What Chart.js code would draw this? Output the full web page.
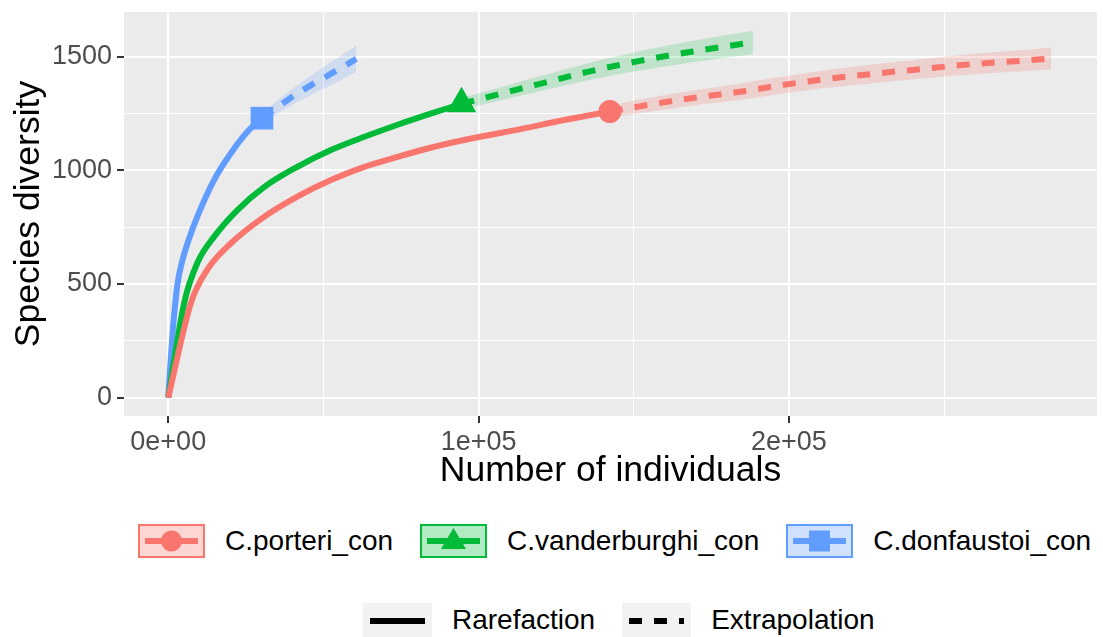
<!DOCTYPE html>
<html>
<head>
<meta charset="utf-8">
<script src="https://cdn.jsdelivr.net/npm/chart.js@4.4.1/dist/chart.umd.min.js"></script>
<style>
  body { margin: 0; background: #fff; font-family: "Liberation Sans", Arial, sans-serif; }
  #wrap { position: relative; width: 1103px; height: 637px; overflow: hidden; }
  #plot { position: absolute; left: 0; top: 0; }
  .legrow { position: absolute; display: flex; align-items: center; height: 34px; font-size: 28px; color: #000; white-space: nowrap; }
  .legrow svg { display: block; margin-right: 20px; flex: none; }
  .legrow span { margin-right: 27px; }
</style>
</head>
<body>
<div id="wrap">
  <canvas id="plot" width="1103" height="500"></canvas>
  <div class="legrow" id="legSpecies" style="left:138px; top:524px;"></div>
  <div class="legrow" id="legType" style="left:363px; top:603px;"></div>
</div>
<script>
// assemblages
const species = ["C.porteri_con", "C.vanderburghi_con", "C.donfaustoi_con"];

// C.porteri_con
const porteriRareX = [0, 7400, 12600, 20300, 31000, 41600, 52600, 63200, 73900, 84800, 96100, 114200, 128000, 142300];
const porteriRareY = [0, 420, 563, 680, 796, 884, 958, 1015, 1059, 1100, 1135, 1183, 1222, 1258];
const porteriExtX = [142300, 151900, 169000, 185200, 193900, 210000, 227100, 243200, 259400, 276800, 284500];
const porteriExtY = [1258, 1281, 1318, 1347, 1366, 1398, 1424, 1446, 1467, 1483, 1492];
const porteriExtLo = [1233, 1251, 1285, 1311, 1329, 1359, 1383, 1403, 1422, 1436, 1444];
const porteriExtHi = [1283, 1311, 1351, 1383, 1403, 1437, 1465, 1489, 1512, 1530, 1540];

// C.vanderburghi_con
const vanderRareX = [0, 5200, 9400, 14800, 22300, 31000, 41600, 52600, 63200, 73900, 84800, 94500];
const vanderRareY = [0, 420, 593, 708, 825, 927, 1015, 1090, 1147, 1200, 1250, 1292];
const vanderExtX = [94500, 103500, 119700, 135800, 151900, 169000, 185200, 188400];
const vanderExtY = [1292, 1324, 1380, 1435, 1481, 1522, 1556, 1562];
const vanderExtLo = [1267, 1296, 1347, 1397, 1439, 1475, 1505, 1510];
const vanderExtHi = [1317, 1352, 1413, 1473, 1523, 1569, 1607, 1614];

// C.donfaustoi_con
const donfRareX = [0, 1500, 3000, 4500, 6500, 9400, 14800, 20300, 25500, 30200];
const donfRareY = [0, 300, 500, 600, 690, 797, 958, 1077, 1169, 1229];
const donfExtX = [30200, 38000, 45500, 52900, 60600];
const donfExtY = [1229, 1305, 1370, 1428, 1490];
const donfExtLo = [1207, 1273, 1328, 1377, 1432];
const donfExtHi = [1251, 1337, 1412, 1479, 1548];

// observed samples (reference points)
const obsX = [142300, 94500, 30200];
const obsY = [1258, 1292, 1229];

// axes
const xMajorTicks = [0, 100000, 200000];
const xTickLabels = ["0e+00", "1e+05", "2e+05"];
const xMinorTicks = [50000, 150000, 250000];
const yMajorTicks = [0, 500, 1000, 1500];
const yMinorTicks = [250, 750, 1250];

const COLORS = ["#F8766D", "#00BA38", "#619CFF"];
const BANDS = ["rgba(248,118,109,0.22)", "rgba(0,186,56,0.18)", "rgba(97,156,255,0.2)"];
const KEY_FILLS = ["rgba(248,118,109,0.3)", "rgba(0,186,56,0.3)", "rgba(97,156,255,0.3)"];
const SHAPES = ["circle", "triangle", "rect"];
const SHAPE_R = [11.5, 17, 16];
const DASH = [13, 12];

function pts(xs, ys) {
  return xs.map((x, i) => ({ x: x, y: ys[i] }));
}

const series = [
  { rx: porteriRareX, ry: porteriRareY, ex: porteriExtX, ey: porteriExtY, lo: porteriExtLo, hi: porteriExtHi },
  { rx: vanderRareX, ry: vanderRareY, ex: vanderExtX, ey: vanderExtY, lo: vanderExtLo, hi: vanderExtHi },
  { rx: donfRareX, ry: donfRareY, ex: donfExtX, ey: donfExtY, lo: donfExtLo, hi: donfExtHi }
];

const smooth = { cubicInterpolationMode: "monotone", borderJoinStyle: "round" };
const datasets = [];
series.forEach((s, i) => {
  // confidence band: upper filled down to the lower one right after it
  datasets.push({ ...smooth, data: pts(s.ex, s.hi), borderWidth: 0, pointRadius: 0, fill: "+1", backgroundColor: BANDS[i], order: 3 });
  datasets.push({ ...smooth, data: pts(s.ex, s.lo), borderWidth: 0, pointRadius: 0, fill: false, order: 3 });
});
series.forEach((s, i) => {
  datasets.push({ ...smooth, data: pts(s.rx, s.ry), borderColor: COLORS[i], borderWidth: 6, pointRadius: 0, fill: false, order: 2 });
  datasets.push({ ...smooth, data: pts(s.ex, s.ey), borderColor: COLORS[i], borderWidth: 6, borderDash: DASH, pointRadius: 0, fill: false, order: 2 });
});
species.forEach((name, i) => {
  datasets.push({
    data: [{ x: obsX[i], y: obsY[i] }], showLine: false,
    pointStyle: SHAPES[i], pointRadius: SHAPE_R[i], pointBackgroundColor: COLORS[i], pointBorderWidth: 0, order: 1
  });
});

const panelBg = {
  id: "panelBg",
  beforeDraw(chart) {
    const { ctx, chartArea: a } = chart;
    ctx.save();
    ctx.fillStyle = "#EBEBEB";
    ctx.fillRect(a.left, a.top, a.right - a.left, a.bottom - a.top);
    ctx.restore();
  }
};

const tickFont = { family: "'Liberation Sans', Arial, sans-serif", size: 27 };
const titleFont = { family: "'Liberation Sans', Arial, sans-serif", size: 35.5 };

function gridFor(majors) {
  const isMajor = c => c.tick && majors.includes(c.tick.value);
  return {
    color: "#FFFFFF",
    lineWidth: c => isMajor(c) ? 2 : 1,
    tickColor: c => isMajor(c) ? "#333333" : "rgba(0,0,0,0)",
    tickWidth: 2,
    tickLength: 7
  };
}

new Chart(document.getElementById("plot"), {
  type: "line",
  data: { datasets: datasets },
  options: {
    responsive: false,
    animation: false,
    layout: { autoPadding: false, padding: { left: 0, right: 6, top: 12, bottom: 0 } },
    plugins: { legend: { display: false }, tooltip: { enabled: false } },
    scales: {
      x: {
        type: "linear", min: -14250, max: 299250,
        afterBuildTicks: sc => { sc.ticks = xMajorTicks.concat(xMinorTicks).sort((a, b) => a - b).map(v => ({ value: v })); },
        afterFit: sc => { sc.height = 84; sc.paddingLeft = 0; sc.paddingRight = 0; },
        ticks: {
          autoSkip: false, maxRotation: 0, padding: 3, color: "#4D4D4D", font: tickFont,
          callback: v => { const k = xMajorTicks.indexOf(v); return k >= 0 ? xTickLabels[k] : ""; }
        },
        grid: gridFor(xMajorTicks),
        border: { display: false },
        title: { display: true, text: "Number of individuals", color: "#000", font: titleFont, padding: { top: 0, bottom: 7 } }
      },
      y: {
        type: "linear", min: -81, max: 1696,
        afterBuildTicks: sc => { sc.ticks = yMajorTicks.concat(yMinorTicks).sort((a, b) => a - b).map(v => ({ value: v })); },
        afterFit: sc => { sc.width = 124; sc.paddingTop = 0; sc.paddingBottom = 0; },
        ticks: {
          autoSkip: false, padding: 5, color: "#4D4D4D", font: tickFont,
          callback: v => yMajorTicks.includes(v) ? String(v) : ""
        },
        grid: gridFor(yMajorTicks),
        border: { display: false },
        title: { display: true, text: "Species diversity", color: "#000", font: titleFont, padding: { top: 8, bottom: 0 } }
      }
    }
  },
  plugins: [panelBg]
});

// legends, drawn as ggplot-style keys
const NS = "http://www.w3.org/2000/svg";
function svgEl(tag, attrs) {
  const el = document.createElementNS(NS, tag);
  Object.keys(attrs).forEach(k => el.setAttribute(k, attrs[k]));
  return el;
}
function addItem(row, svg, label) {
  row.appendChild(svg);
  const sp = document.createElement("span");
  sp.textContent = label;
  row.appendChild(sp);
}

const legSpecies = document.getElementById("legSpecies");
species.forEach((name, i) => {
  const svg = svgEl("svg", { width: 67, height: 34 });
  svg.appendChild(svgEl("rect", { x: 1, y: 1, width: 65, height: 32, fill: KEY_FILLS[i], stroke: COLORS[i], "stroke-width": 2 }));
  svg.appendChild(svgEl("line", { x1: 7, y1: 17, x2: 60, y2: 17, stroke: COLORS[i], "stroke-width": 6 }));
  if (SHAPES[i] === "circle") svg.appendChild(svgEl("circle", { cx: 33.5, cy: 17, r: 10.5, fill: COLORS[i] }));
  if (SHAPES[i] === "triangle") svg.appendChild(svgEl("polygon", { points: "33.5,4 46,25 21,25", fill: COLORS[i] }));
  if (SHAPES[i] === "rect") svg.appendChild(svgEl("rect", { x: 23, y: 6.5, width: 21, height: 21, fill: COLORS[i] }));
  addItem(legSpecies, svg, name);
});

const legType = document.getElementById("legType");
[["Rarefaction", null], ["Extrapolation", DASH]].forEach(([label, dash]) => {
  const svg = svgEl("svg", { width: 69, height: 34 });
  svg.appendChild(svgEl("rect", { x: 0, y: 0, width: 69, height: 34, fill: "#F2F2F2" }));
  const ln = svgEl("line", { x1: 7, y1: 18, x2: 62, y2: 18, stroke: "#000", "stroke-width": 6 });
  if (dash) ln.setAttribute("stroke-dasharray", dash.join(" "));
  svg.appendChild(ln);
  addItem(legType, svg, label);
});
</script>
</body>
</html>
